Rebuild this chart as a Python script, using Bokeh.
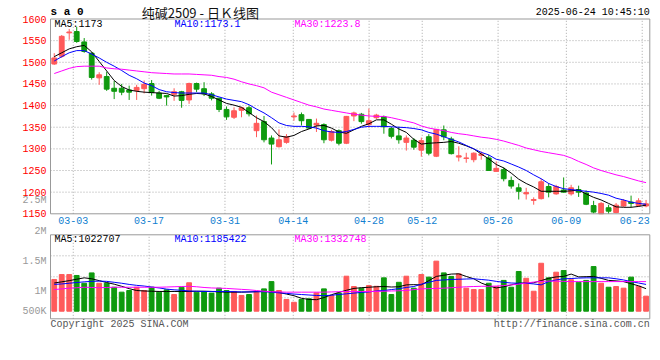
from bokeh.plotting import figure
from bokeh.models import Range1d, FixedTicker, Label, ColumnDataSource, LinearAxis
from bokeh.embed import file_html
from bokeh.resources import INLINE

# ---------------- data ----------------
opens = [1496, 1514, 1568, 1571, 1547, 1521, 1464, 1467, 1440, 1440,
         1436, 1435, 1439, 1451, 1429, 1423, 1426, 1432, 1413, 1451,
         1439, 1427, 1417, 1391, 1373, 1389, 1395, 1342, 1363, 1325,
         1305, 1315, 1374, 1379, 1368, 1355, 1356, 1320, 1342, 1313,
         1376, 1380, 1356, 1372, 1374, 1347, 1330, 1315, 1320, 1297,
         1328, 1283, 1344, 1323, 1281, 1278, 1275, 1285, 1279, 1248,
         1252, 1227, 1210, 1196, 1181, 1185, 1213, 1196, 1205, 1196,
         1206, 1198, 1169, 1150, 1164, 1153, 1168, 1177, 1169, 1168]
highs = [1521, 1563, 1577, 1582, 1556, 1523, 1477, 1478, 1457, 1450,
         1446, 1448, 1458, 1459, 1434, 1425, 1440, 1434, 1453, 1453,
         1454, 1431, 1418, 1398, 1396, 1397, 1400, 1377, 1376, 1331,
         1345, 1334, 1384, 1384, 1369, 1370, 1359, 1344, 1345, 1376,
         1386, 1383, 1393, 1381, 1377, 1351, 1351, 1331, 1325, 1326,
         1334, 1346, 1354, 1328, 1306, 1291, 1292, 1294, 1286, 1271,
         1257, 1236, 1220, 1210, 1188, 1231, 1221, 1217, 1234, 1217,
         1215, 1204, 1180, 1177, 1171, 1175, 1184, 1192, 1186, 1182]
lows = [1494, 1510, 1552, 1545, 1522, 1460, 1448, 1434, 1415, 1424,
        1413, 1413, 1428, 1423, 1415, 1400, 1411, 1395, 1404, 1431,
        1422, 1412, 1385, 1367, 1369, 1373, 1375, 1327, 1315, 1264,
        1303, 1312, 1365, 1354, 1346, 1339, 1313, 1317, 1308, 1311,
        1364, 1358, 1349, 1369, 1335, 1324, 1312, 1296, 1298, 1282,
        1285, 1281, 1320, 1287, 1271, 1268, 1269, 1275, 1250, 1248,
        1225, 1208, 1183, 1183, 1171, 1183, 1188, 1194, 1199, 1192,
        1189, 1170, 1151, 1150, 1150, 1151, 1166, 1165, 1166, 1165]
closes = [1510, 1560, 1570, 1548, 1525, 1465, 1471, 1438, 1433, 1431,
          1431, 1442, 1449, 1430, 1417, 1420, 1432, 1412, 1451, 1438,
          1427, 1417, 1391, 1374, 1388, 1395, 1381, 1359, 1321, 1311,
          1321, 1328, 1376, 1365, 1348, 1359, 1321, 1340, 1313, 1375,
          1383, 1363, 1365, 1378, 1351, 1329, 1321, 1325, 1304, 1319,
          1290, 1345, 1328, 1289, 1284, 1279, 1290, 1288, 1250, 1255,
          1231, 1214, 1202, 1199, 1183, 1224, 1200, 1213, 1200, 1210,
          1200, 1172, 1154, 1174, 1156, 1170, 1180, 1174, 1180, 1173]
volumes = [1350000, 1560000, 1560000, 1520000, 1190000, 1630000, 1190000, 1190000, 1020000, 810000,
           880000, 1020000, 880000, 1020000, 810000, 910000, 710000, 1020000, 1210000, 810000,
           840000, 770000, 980000, 880000, 840000, 670000, 710000, 840000, 950000, 1260000,
           880000, 500000, 380000, 500000, 530000, 780000, 950000, 670000, 770000, 1490000,
           1050000, 980000, 1090000, 1060000, 1420000, 710000, 1230000, 1490000, 980000, 1560000,
           1450000, 2130000, 1630000, 1480000, 1590000, 980000, 920000, 920000, 1190000, 1050000,
           1310000, 1020000, 1690000, 1400000, 850000, 2040000, 1420000, 1660000, 1730000, 1340000,
           1230000, 1310000, 1900000, 1190000, 1020000, 1050000, 980000, 1450000, 1060000, 640000]
ma5 = [1513, 1522, 1531, 1536, 1539, 1524, 1502, 1480, 1458, 1444,
       1436, 1433, 1431, 1430, 1429, 1428, 1422, 1423, 1426, 1428,
       1427, 1421, 1413, 1405, 1401, 1396, 1384, 1372, 1363, 1349,
       1330, 1327, 1331, 1340, 1346, 1353, 1354, 1348, 1339, 1336,
       1344, 1352, 1358, 1367, 1367, 1357, 1346, 1338, 1322, 1311,
       1313, 1314, 1315, 1317, 1313, 1307, 1300, 1288, 1277, 1264,
       1256, 1244, 1230, 1220, 1212, 1202, 1202, 1202, 1202, 1203,
       1205, 1196, 1188, 1182, 1174, 1166, 1165, 1165, 1167, 1170]
ma10 = [1503, 1513, 1522, 1527, 1527, 1519, 1510, 1500, 1491, 1481,
        1470, 1462, 1452, 1446, 1437, 1432, 1430, 1429, 1429, 1429,
        1429, 1425, 1420, 1415, 1412, 1409, 1402, 1392, 1383, 1372,
        1360, 1354, 1352, 1352, 1351, 1348, 1342, 1339, 1338, 1340,
        1345, 1350, 1352, 1352, 1352, 1351, 1350, 1349, 1347, 1344,
        1338, 1334, 1328, 1322, 1316, 1308, 1300, 1292, 1286, 1276,
        1272, 1265, 1258, 1250, 1240, 1231, 1220, 1213, 1208, 1206,
        1204, 1202, 1200, 1197, 1193, 1186, 1182, 1177, 1174, 1172]
ma30 = [1474, 1480, 1486, 1490, 1491, 1491, 1491, 1487, 1485, 1484,
        1482, 1480, 1478, 1476, 1475, 1474, 1473, 1473, 1473, 1472,
        1471, 1470, 1467, 1465, 1461, 1455, 1450, 1446, 1441, 1431,
        1425, 1419, 1413, 1407, 1401, 1397, 1392, 1389, 1386, 1383,
        1380, 1378, 1376, 1375, 1375, 1372, 1368, 1364, 1360, 1353,
        1348, 1345, 1342, 1338, 1335, 1333, 1330, 1327, 1325, 1322,
        1318, 1313, 1308, 1302, 1298, 1294, 1291, 1288, 1285, 1279,
        1271, 1264, 1256, 1250, 1245, 1240, 1236, 1231, 1226, 1222]
vma5 = [1200000, 1250000, 1300000, 1360000, 1420000, 1380000, 1300000, 1220000, 1150000, 1060000,
        960000, 880000, 860000, 850000, 840000, 840000, 840000, 840000, 840000, 850000,
        850000, 840000, 820000, 810000, 810000, 810000, 820000, 830000, 840000, 830000,
        800000, 730000, 660000, 550000, 500000, 490000, 580000, 700000, 800000, 890000,
        970000, 1000000, 1020000, 1040000, 1050000, 1030000, 1040000, 1120000, 1130000, 1120000,
        1300000, 1480000, 1530000, 1580000, 1590000, 1480000, 1380000, 1200000, 1080000, 990000,
        1040000, 1120000, 1190000, 1200000, 1210000, 1300000, 1400000, 1460000, 1480000, 1580000,
        1460000, 1470000, 1480000, 1400000, 1310000, 1290000, 1260000, 1170000, 1080000, 960000]
vma10 = [1140000, 1160000, 1190000, 1220000, 1250000, 1270000, 1280000, 1270000, 1230000, 1190000,
         1140000, 1100000, 1070000, 1030000, 990000, 940000, 910000, 890000, 860000, 850000,
         840000, 840000, 840000, 840000, 830000, 820000, 820000, 830000, 830000, 810000,
         780000, 760000, 730000, 710000, 690000, 670000, 660000, 680000, 710000, 740000,
         770000, 800000, 820000, 860000, 880000, 920000, 960000, 1010000, 1050000, 1150000,
         1230000, 1310000, 1330000, 1350000, 1360000, 1370000, 1380000, 1350000, 1320000, 1270000,
         1230000, 1200000, 1190000, 1190000, 1160000, 1120000, 1260000, 1330000, 1380000, 1390000,
         1410000, 1420000, 1420000, 1420000, 1420000, 1380000, 1330000, 1260000, 1200000, 1140000]
vma30 = [920000, 950000, 980000, 1000000, 1020000, 1010000, 1000000, 1010000, 1020000, 1020000,
         1020000, 1020000, 1020000, 1020000, 1020000, 1030000, 1040000, 1050000, 1060000, 1040000,
         1010000, 990000, 980000, 970000, 950000, 930000, 910000, 880000, 850000, 830000,
         820000, 810000, 810000, 810000, 810000, 810000, 810000, 820000, 830000, 840000,
         840000, 840000, 840000, 840000, 850000, 860000, 870000, 880000, 920000, 950000,
         960000, 970000, 980000, 1000000, 1020000, 1040000, 1050000, 1060000, 1060000, 1070000,
         1090000, 1120000, 1150000, 1200000, 1240000, 1270000, 1280000, 1280000, 1270000, 1260000,
         1260000, 1260000, 1260000, 1260000, 1260000, 1260000, 1260000, 1260000, 1260000, 1260000]

date_tick_index = [3, 13, 23, 32, 42, 49, 59, 68, 78]
date_tick_labels = ["03-03", "03-17", "03-31", "04-14", "04-28", "05-12", "05-26", "06-09", "06-23"]
price_ticks = [1150, 1200, 1250, 1300, 1350, 1400, 1450, 1500, 1550, 1600]
vol_panel = [-323000, 3251000]          # value span of the volume panel box
price_ma_text = ["MA5:1173", "MA10:1173.1", "MA30:1223.8"]
vol_ma_text = ["MA5:1022707", "MA10:1185422", "MA30:1332748"]
vol_scale_labels = ["2.5M", "2M", "1.5M", "1M", "500K"]
title_text = "纯碱2509 - 日Ｋ线图"
symbol_text = "s a 0"
time_text = "2025-06-24 10:45:10"
footer_left = "Copyright 2025 SINA.COM"
footer_right = "http://finance.sina.com.cn"

# ---------------- layout (canvas pixels) & styles ----------------
W, H = 660, 340
PANEL_L, PANEL_R = 50.0, 649.3
PRICE_TOP, PRICE_BOT = 18.5, 213.3
VOL_TOP, VOL_BOT = 234.3, 318.3
VOL_LABEL_PX = [200, 231, 261, 290.7, 310.7]

RED = "#FF5A5A"
GREEN = "#0E9A0E"
MA_COLORS = ["#000000", "#0000FF", "#FF00FF"]
GRID = "#A8A8A8"
FRAME = "#999999"
MONO = "Liberation Mono"

n = len(opens)
ppu = (PANEL_R - PANEL_L) / n
x_range = Range1d(-PANEL_L / ppu, n + (W - PANEL_R) / ppu)

p_lo, p_hi = price_ticks[0], price_ticks[-1]
p_per_px = (p_hi - p_lo) / (PRICE_BOT - PRICE_TOP)
y_range = Range1d(p_lo - (H - PRICE_BOT) * p_per_px, p_hi + PRICE_TOP * p_per_px)

v_lo, v_hi = vol_panel
v_per_px = (v_hi - v_lo) / (VOL_BOT - VOL_TOP)
vol_range = Range1d(v_lo - (H - VOL_BOT) * v_per_px, v_hi + VOL_TOP * v_per_px)


def price_at(px):
    return p_hi - (px - PRICE_TOP) * p_per_px


def vol_at(px):
    return v_hi - (px - VOL_TOP) * v_per_px


xs = [i + 0.5 for i in range(n)]
colors = [RED if c >= o else GREEN for o, c in zip(opens, closes)]
src = ColumnDataSource(dict(
    x=xs, high=highs, low=lows,
    top=[max(o, c) for o, c in zip(opens, closes)],
    bottom=[min(o, c) for o, c in zip(opens, closes)],
    color=colors, vol=volumes,
    ma5=ma5, ma10=ma10, ma30=ma30, vma5=vma5, vma10=vma10, vma30=vma30,
))

grid_pos = [round(i * n / (n - 1), 4) for i in date_tick_index]
label_pos = list(grid_pos)
label_pos[-1] = round(min(label_pos[-1], n - 2.0), 4)

p = figure(width=W, height=H, x_range=x_range, y_range=y_range,
           output_backend="svg", toolbar_location=None,
           x_axis_location=None, y_axis_location="left",
           min_border_left=0, min_border_right=0, min_border_top=0, min_border_bottom=0)
p.extra_y_ranges = {"vol": vol_range}
p.background_fill_color = "white"
p.border_fill_color = "white"
p.outline_line_color = None
p.xgrid.visible = False
p.ygrid.visible = False

AXIS_STYLE = dict(axis_line_color=None, major_tick_line_color=None, minor_tick_line_color=None,
                  major_tick_out=0, major_tick_in=0, major_label_text_font=MONO,
                  major_label_text_font_size="10px")

# price axis (red), pinned at the panel's left edge
ya = p.yaxis[0]
ya.update(fixed_location=0, ticker=FixedTicker(ticks=price_ticks), major_label_standoff=4,
          major_label_text_color="#FF0000", **AXIS_STYLE)

# volume scale labels (grey)
vol_tick_vals = [int(round(vol_at(px))) for px in VOL_LABEL_PX]
va = LinearAxis(y_range_name="vol", fixed_location=0,
                ticker=FixedTicker(ticks=vol_tick_vals),
                major_label_overrides={v: t for v, t in zip(vol_tick_vals, vol_scale_labels)},
                major_label_standoff=4, major_label_text_color="#999999", **AXIS_STYLE)
p.add_layout(va, "left")

# date axis between the two panels
xa = LinearAxis(fixed_location=p_lo, ticker=FixedTicker(ticks=label_pos),
                major_label_overrides={v: t for v, t in zip(label_pos, date_tick_labels)},
                major_label_standoff=3, major_label_text_color="#1080D0", **AXIS_STYLE)
p.add_layout(xa, "below")

# grid lines (dotted)
k = len(grid_pos)
p.segment(x0=grid_pos, y0=[p_lo] * k, x1=grid_pos, y1=[p_hi] * k,
          line_color=GRID, line_dash="1 2", line_width=1)
inner = price_ticks[1:-1]
p.segment(x0=[0] * len(inner), y0=inner, x1=[n] * len(inner), y1=inner,
          line_color=GRID, line_dash="1 2", line_width=1)
p.segment(x0=grid_pos[:-1], y0=[v_lo] * (k - 1), x1=grid_pos[:-1], y1=[v_hi] * (k - 1),
          line_color=GRID, line_dash="1 2", line_width=1, y_range_name="vol")
quarters = [v_lo + j * (v_hi - v_lo) / 4 for j in (1, 2, 3)]
p.segment(x0=[0] * 3, y0=quarters, x1=[n] * 3, y1=quarters,
          line_color=GRID, line_dash="1 2", line_width=1, y_range_name="vol")

# candles
p.segment(x0="x", y0="low", x1="x", y1="high", line_color="color", line_width=1, source=src)
p.vbar(x="x", top="top", bottom="bottom", width=0.64, fill_color="color",
       line_color="color", line_width=1, source=src)
for col, c in zip(["ma5", "ma10", "ma30"], MA_COLORS):
    p.line(x="x", y=col, line_color=c, line_width=1, source=src)

# volume
p.vbar(x="x", top="vol", bottom=0, width=0.64, fill_color="color",
       line_color="color", line_width=1, source=src, y_range_name="vol")
for col, c in zip(["vma5", "vma10", "vma30"], MA_COLORS):
    p.line(x="x", y=col, line_color=c, line_width=1, source=src, y_range_name="vol")

# panel boxes
p.quad(left=0, right=n, bottom=p_lo, top=p_hi, fill_color=None, line_color=FRAME, line_width=1)
p.quad(left=0, right=n, bottom=v_lo, top=v_hi, fill_color=None, line_color=FRAME, line_width=1,
       y_range_name="vol")


def add_label(text, x, y, color, size="10px", align="left", xoff=0, font=MONO,
              style="normal", rng="default"):
    p.add_layout(Label(x=x, y=y, text=text, text_color=color, text_font=font,
                       text_font_size=size, text_align=align, text_baseline="middle",
                       x_offset=xoff, text_font_style=style, y_range_name=rng))


for j, (t, c) in enumerate(zip(price_ma_text, MA_COLORS)):
    add_label(t, 0, price_at(24.3), c, xoff=4 + 120 * j)
for j, (t, c) in enumerate(zip(vol_ma_text, MA_COLORS)):
    add_label(t, 0, vol_at(238.5), c, xoff=4 + 120 * j, rng="vol")
add_label(symbol_text, 0, price_at(11.5), "#000000", size="11px", style="bold")
add_label(title_text, n / 4, price_at(11.5), "#111111", size="13px", align="center",
          font="Noto Sans CJK SC")
add_label(time_text, n, price_at(12.3), "#000000", align="right")
add_label(footer_left, 0, vol_at(323.5), "#555555", rng="vol")
add_label(footer_right, n, vol_at(323.5), "#555555", align="right", rng="vol")

open("out.html", "w").write(file_html(p, INLINE))
